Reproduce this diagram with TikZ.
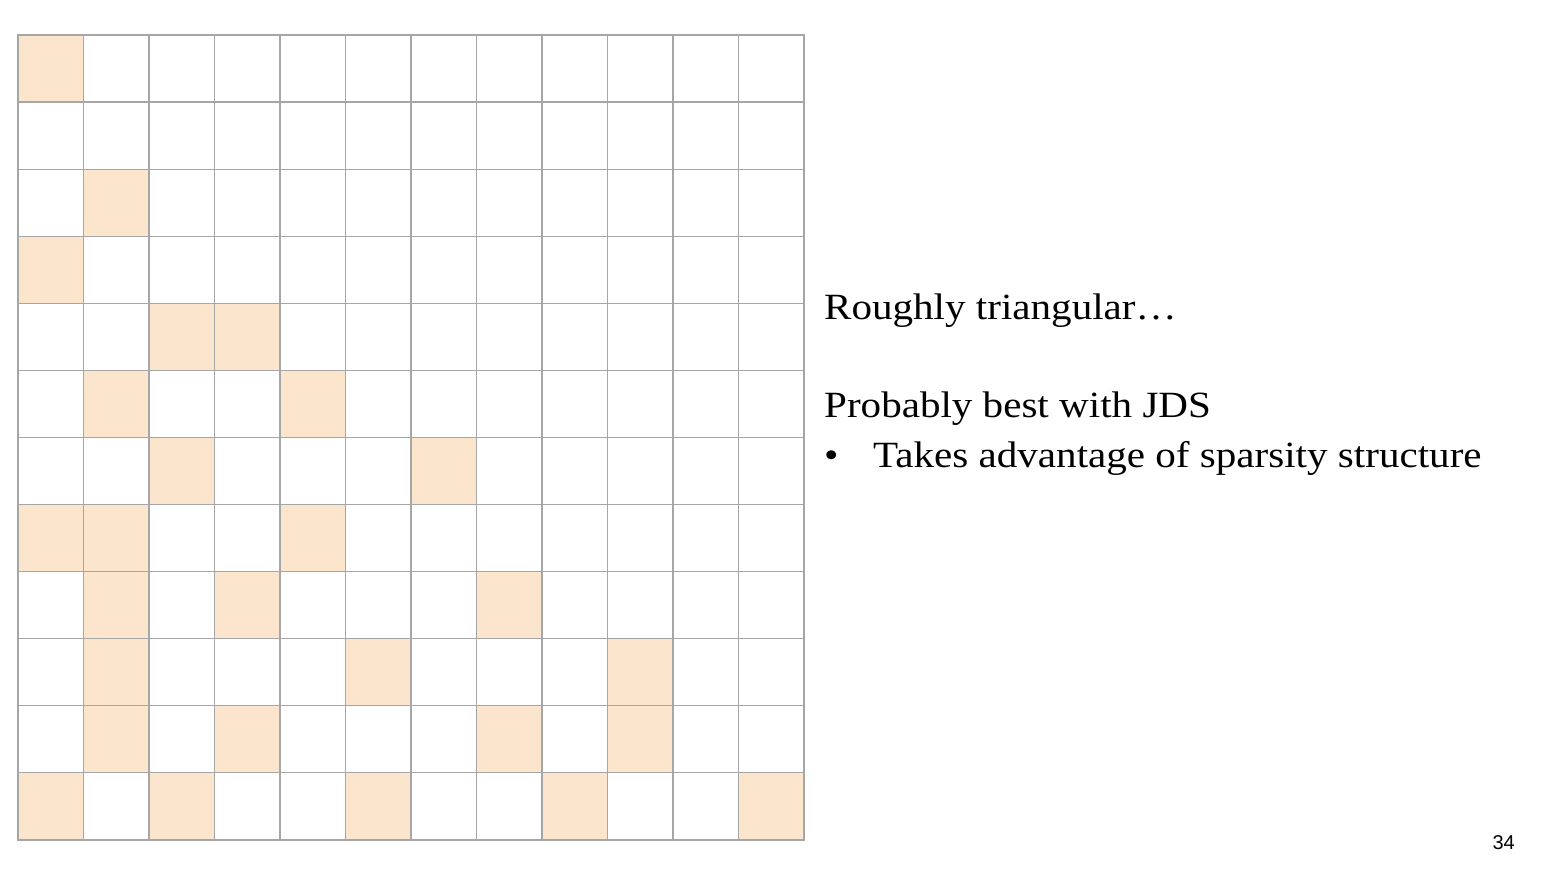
\documentclass[tikz,border=0pt]{standalone}
\usepackage{fontspec}
\setmainfont{Liberation Serif}
\newfontfamily\slidefont[FakeStretch=1.11]{Liberation Serif}
\newfontfamily\pagefont{Liberation Sans}
\usetikzlibrary{positioning, backgrounds}
\definecolor{CellPeach}{HTML}{FCE5CD}
\definecolor{GridGray}{HTML}{A6A6A6}
\tikzset{
  cell/.style={draw=GridGray, line width=1.2pt, minimum width=65.5pt, minimum height=67.08pt, inner sep=0pt, outer sep=0pt, anchor=north west},
  slidetext/.style={font=\slidefont\fontsize{37}{44}\selectfont, anchor=base west, inner sep=0pt},
  pagetext/.style={font=\pagefont\fontsize{20}{24}\selectfont, anchor=base east, inner sep=0pt}
}

\begin{document}
\begin{tikzpicture}[x=1pt, y=-1pt]
\useasboundingbox (0,0) rectangle (1544,880);

% 12 x 12 sparse matrix
\foreach \r in {0,...,11} {
  \foreach \c in {0,...,11} {
    \node[cell] (c-\r-\c) at ({18+65.5*\c},{35+67.08*\r}) {};
  }
}
\begin{scope}[on background layer]
\foreach \r/\c in {0/0, 2/1, 3/0, 4/2, 4/3, 5/1, 5/4, 6/2, 6/6,
                   7/0, 7/1, 7/4, 8/1, 8/3, 8/7, 9/1, 9/5, 9/9,
                   10/1, 10/3, 10/7, 10/9, 11/0, 11/2, 11/5, 11/8, 11/11}
  \fill[CellPeach] (c-\r-\c.north west) rectangle (c-\r-\c.south east);
\end{scope}

% notes
\node[slidetext] (shape) at (824,319) {Roughly triangular…};
\node[slidetext] (best) at (824,417) {Probably best with JDS};
\node[slidetext] (bullet) at (824,467) {•};
\node[slidetext] (reason) at (873,467) {Takes advantage of sparsity structure};

\node[pagetext] (pagenum) at (1515,849) {34};
\end{tikzpicture}
\end{document}
